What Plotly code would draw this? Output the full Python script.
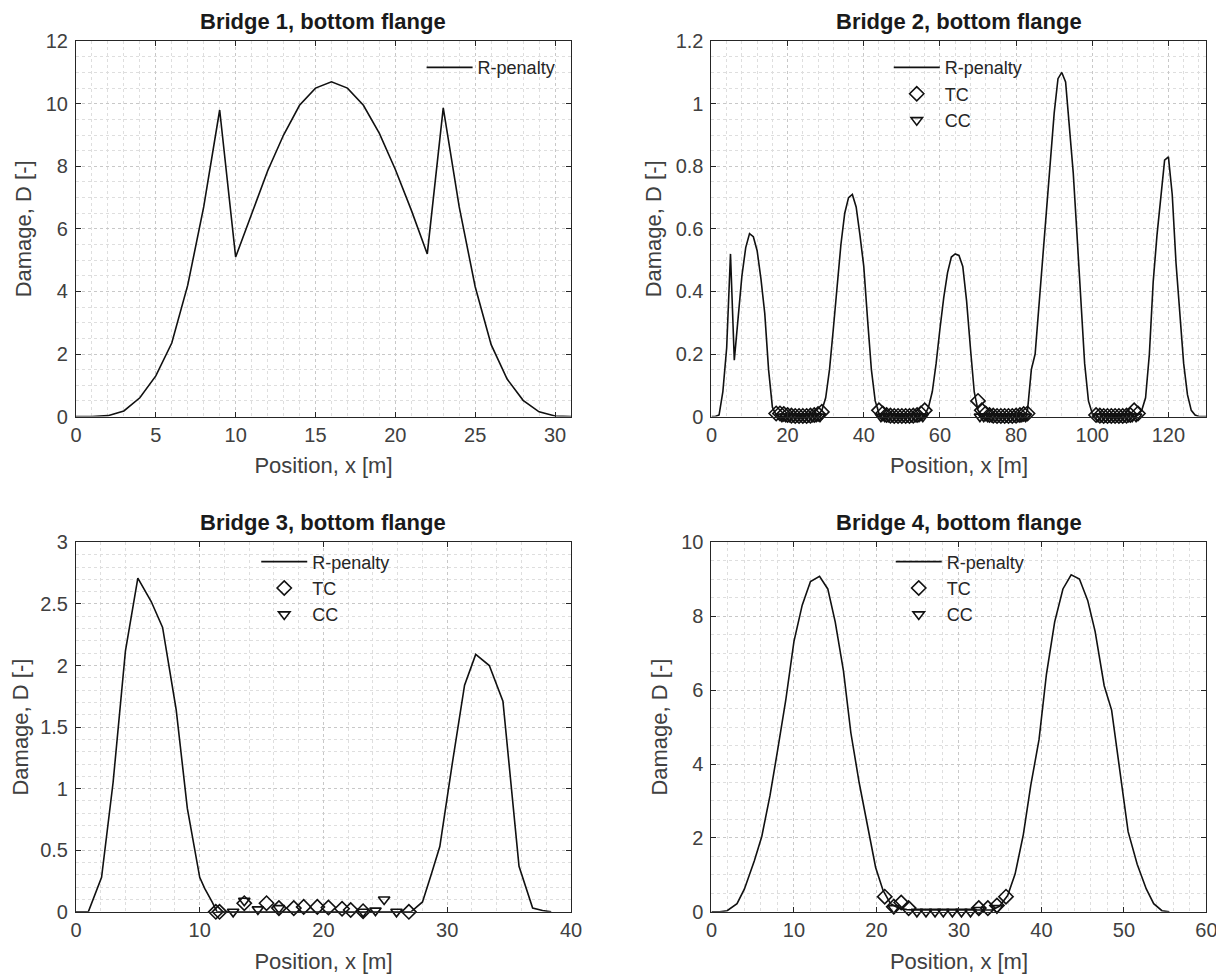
import plotly.graph_objects as go

# ---------------- data ----------------
# Bridge 1
b1_x = list(range(0, 32))
b1_rp = [0, 0, 0.03, 0.18, 0.6, 1.3, 2.35, 4.2, 6.7, 9.8, 5.1, 6.5, 7.85, 9.0, 9.95, 10.5,
         10.7, 10.5, 9.95, 9.05, 7.9, 6.6, 5.2, 9.87, 6.7, 4.15, 2.3, 1.2, 0.52, 0.15, 0.02, 0]

# Bridge 2
b2_x = list(range(0, 131))
b2_rp = [0, 0, 0.005, 0.08, 0.22, 0.52, 0.18, 0.32, 0.45, 0.54,          # 0-9
         0.585, 0.575, 0.53, 0.44, 0.33, 0.15, 0.03, 0.005, 0, 0,      # 10-19
         0, 0, 0, 0, 0, 0, 0, 0, 0.005, 0.02,                          # 20-29
         0.06, 0.15, 0.28, 0.42, 0.55, 0.65, 0.7, 0.71, 0.67, 0.58,    # 30-39
         0.48, 0.31, 0.15, 0.05, 0.01, 0, 0, 0, 0, 0,                  # 40-49
         0, 0, 0, 0, 0, 0, 0.005, 0.03, 0.08, 0.17,                    # 50-59
         0.28, 0.38, 0.46, 0.51, 0.52, 0.515, 0.48, 0.37, 0.22, 0.08,  # 60-69
         0.02, 0.005, 0, 0, 0, 0, 0, 0, 0, 0,                          # 70-79
         0, 0, 0, 0.02, 0.15, 0.2, 0.35, 0.5, 0.66, 0.82,              # 80-89
         0.97, 1.08, 1.1, 1.07, 0.93, 0.78, 0.58, 0.36, 0.17, 0.05,    # 90-99
         0.01, 0, 0, 0, 0, 0, 0, 0, 0, 0,                              # 100-109
         0, 0, 0.005, 0.02, 0.06, 0.2, 0.43, 0.58, 0.7, 0.82,          # 110-119
         0.83, 0.71, 0.49, 0.33, 0.17, 0.07, 0.02, 0.005, 0, 0,        # 120-129
         0]                                                            # 130
b2_tc_x = [17, 18, 19, 20, 21, 22, 23, 24, 25, 26, 27, 28, 29,
           44, 45, 46, 47, 48, 49, 50, 51, 52, 53, 54, 55, 56,
           70, 71, 72, 73, 74, 75, 76, 77, 78, 79, 80, 81, 82, 83,
           101, 102, 103, 104, 105, 106, 107, 108, 109, 110, 111, 112]
b2_tc_y = [0.01, 0.01, 0.008, 0.005, 0.003, 0.002, 0.002, 0.002, 0.002, 0.003, 0.005, 0.008, 0.015,
           0.02, 0.01, 0.005, 0.003, 0.002, 0.002, 0.002, 0.002, 0.002, 0.003, 0.005, 0.01, 0.02,
           0.05, 0.02, 0.01, 0.005, 0.003, 0.002, 0.002, 0.002, 0.002, 0.002, 0.003, 0.005, 0.008, 0.01,
           0.005, 0.003, 0.002, 0.002, 0.002, 0.002, 0.002, 0.002, 0.003, 0.005, 0.02, 0.01]
b2_cc_x = [18.5, 19.5, 20.5, 21.5, 22.5, 23.5, 24.5, 25.5, 26.5, 27.5, 28.5,
           44.5, 45.5, 46.5, 47.5, 48.5, 49.5, 50.5, 51.5, 52.5, 53.5, 54.5, 55.5,
           70.5, 71.5, 72.5, 73.5, 74.5, 75.5, 76.5, 77.5, 78.5, 79.5, 80.5, 81.5, 82.5,
           101.5, 102.5, 103.5, 104.5, 105.5, 106.5, 107.5, 108.5, 109.5, 110.5, 111.5]
b2_cc_y = [0.0] * len(b2_cc_x)

# Bridge 3
b3_x = [0, 1.0, 2.07, 3.0, 4.0, 5.0, 6.08, 7.0, 8.1, 9.0, 10.0, 10.4, 11.0, 11.4,
        27.07, 28.0, 28.7, 29.4, 30.4, 31.4, 32.3, 33.4, 34.5, 35.8, 36.9, 37.7, 38.4]
b3_rp = [0, 0, 0.28, 1.05, 2.12, 2.71, 2.52, 2.31, 1.64, 0.84, 0.28, 0.19, 0.08, 0.0,
         0.0, 0.08, 0.3, 0.53, 1.2, 1.84, 2.09, 2.0, 1.71, 0.37, 0.03, 0.01, 0.0]
b3_tc_x = [11.3, 11.6, 13.6, 15.4, 16.4, 17.6, 18.4, 19.5, 20.4, 21.5, 22.2, 23.2, 26.9]
b3_tc_y = [0.0, 0.0, 0.07, 0.07, 0.03, 0.03, 0.04, 0.04, 0.035, 0.025, 0.015, 0.005, 0.0]
b3_cc_x = [12.7, 13.6, 14.7, 16.4, 23.2, 24.2, 24.9, 25.9]
b3_cc_y = [0.0, 0.09, 0.02, 0.03, 0.0, 0.01, 0.1, 0.0]

# Bridge 4
b4_x = [0, 1.0, 1.9, 3.1, 4.0, 5.2, 6.1, 7.1, 8.0, 9.0, 10.0, 11.0, 12.0, 13.1, 14.1, 15.0,
        16.0, 16.9, 17.9, 18.9, 19.9, 20.8, 21.7, 22.7, 23.7, 24.7, 34.0, 34.9, 35.9, 36.8,
        37.8, 38.7, 39.7, 40.6, 41.6, 42.6, 43.6, 44.6, 45.6, 46.5, 47.6, 48.5, 49.5, 50.5,
        51.6, 52.7, 53.6, 54.6, 55.5]
b4_rp = [0, 0.0, 0.03, 0.22, 0.62, 1.38, 2.04, 3.15, 4.35, 5.72, 7.32, 8.3, 8.94, 9.08, 8.74, 7.85,
         6.52, 4.84, 3.5, 2.35, 1.2, 0.58, 0.22, 0.1, 0.06, 0.05, 0.05, 0.15, 0.44, 1.02,
         2.09, 3.42, 4.66, 6.43, 7.85, 8.74, 9.12, 9.01, 8.43, 7.59, 6.12, 5.46, 3.8, 2.17,
         1.29, 0.62, 0.22, 0.03, 0.0]
b4_tc_x = [21.0, 22.1, 23.0, 23.9, 32.4, 33.5, 34.6, 35.7]
b4_tc_y = [0.41, 0.14, 0.25, 0.1, 0.1, 0.1, 0.17, 0.41]
b4_cc_x = [22.1, 24.9, 26.0, 27.1, 28.1, 29.2, 30.3, 31.4, 32.4, 34.6]
b4_cc_y = [0.1, 0.0, 0.0, 0.0, 0.0, 0.0, 0.0, 0.0, 0.05, 0.1]

titles = ["Bridge 1, bottom flange", "Bridge 2, bottom flange",
          "Bridge 3, bottom flange", "Bridge 4, bottom flange"]
x_title = "Position, x [m]"
y_title = "Damage, D [-]"

b1_xticks = [0, 5, 10, 15, 20, 25, 30]
b1_yticks = [0, 2, 4, 6, 8, 10, 12]
b2_xticks = [0, 20, 40, 60, 80, 100, 120]
b2_yticks = [0, 0.2, 0.4, 0.6, 0.8, 1, 1.2]
b2_ytext = ["0", "0.2", "0.4", "0.6", "0.8", "1", "1.2"]
b3_xticks = [0, 10, 20, 30, 40]
b3_yticks = [0, 0.5, 1, 1.5, 2, 2.5, 3]
b3_ytext = ["0", "0.5", "1", "1.5", "2", "2.5", "3"]
b4_xticks = [0, 10, 20, 30, 40, 50, 60]
b4_yticks = [0, 2, 4, 6, 8, 10]

# ---------------- figure ----------------
W, H = 1224, 977
FONT = "Liberation Sans, Arial, sans-serif"
LINE_C = "#111111"
TXT_C = "#404040"

fig = go.Figure()

def px_x(p):
    return ((p - 12.8) / 0.99) / W

def px_y(p):
    return 1 - ((p - 17.8) / 0.979) / H

col_dom = [[px_x(75), px_x(572)], [px_x(713), px_x(1210)]]
row_dom = [[px_y(416), px_y(40)], [px_y(912), px_y(542)]]

panels = [
    dict(x=b1_x, y=b1_rp, tc=None, cc=None, xr=[0, 31], yr=[0, 12],
         xt=b1_xticks, xtt=[str(v) for v in b1_xticks], yt=b1_yticks, ytt=[str(v) for v in b1_yticks],
         xminor=1, yminor=0.5, col=0, row=0),
    dict(x=b2_x, y=b2_rp, tc=(b2_tc_x, b2_tc_y), cc=(b2_cc_x, b2_cc_y), xr=[0, 130], yr=[0, 1.2],
         xt=b2_xticks, xtt=[str(v) for v in b2_xticks], yt=b2_yticks, ytt=b2_ytext,
         xminor=4, yminor=0.05, col=1, row=0),
    dict(x=b3_x, y=b3_rp, tc=(b3_tc_x, b3_tc_y), cc=(b3_cc_x, b3_cc_y), xr=[0, 40], yr=[0, 3],
         xt=b3_xticks, xtt=[str(v) for v in b3_xticks], yt=b3_yticks, ytt=b3_ytext,
         xminor=2, yminor=0.1, col=0, row=1),
    dict(x=b4_x, y=b4_rp, tc=(b4_tc_x, b4_tc_y), cc=(b4_cc_x, b4_cc_y), xr=[0, 60], yr=[0, 10],
         xt=b4_xticks, xtt=[str(v) for v in b4_xticks], yt=b4_yticks, ytt=[str(v) for v in b4_yticks],
         xminor=2, yminor=0.5, col=1, row=1),
]

legend_pos = [(422, 48), (891, 48), (256, 543), (893, 543)]

annotations = []
for i, p in enumerate(panels):
    n = "" if i == 0 else str(i + 1)
    xa, ya = "x" + n, "y" + n
    lg = "legend" if i == 0 else "legend" + str(i + 1)
    fig.add_trace(go.Scatter(x=p["x"], y=p["y"], mode="lines", name="R-penalty",
                             line=dict(color=LINE_C, width=1.6), xaxis=xa, yaxis=ya,
                             legend=lg, showlegend=True))
    if p["tc"] is not None:
        fig.add_trace(go.Scatter(x=p["tc"][0], y=p["tc"][1], mode="markers", name="TC",
                                 marker=dict(symbol="diamond-open", size=11, color=LINE_C,
                                             line=dict(width=1.6, color=LINE_C)),
                                 cliponaxis=False, xaxis=xa, yaxis=ya, legend=lg))
        fig.add_trace(go.Scatter(x=p["cc"][0], y=p["cc"][1], mode="markers", name="CC",
                                 marker=dict(symbol="triangle-down-open", size=10, color=LINE_C,
                                             line=dict(width=1.6, color=LINE_C)),
                                 cliponaxis=False, xaxis=xa, yaxis=ya, legend=lg))
    axis_common = dict(showline=True, linecolor="#262626", linewidth=1, mirror="ticks",
                       ticks="inside", ticklen=5, tickcolor="#262626",
                       tickfont=dict(family=FONT, size=20, color=TXT_C),
                       showgrid=True, gridcolor="#c8c8c8", griddash="dot", gridwidth=1,
                       zeroline=False)
    xaxis = dict(axis_common, domain=col_dom[p["col"]], range=p["xr"], anchor=ya,
                 tickmode="array", tickvals=p["xt"], ticktext=p["xtt"],
                 minor=dict(dtick=p["xminor"], showgrid=True, gridcolor="#dedede",
                            griddash="dot", ticks=""),
                 title=dict(text=x_title, font=dict(family=FONT, size=22, color=TXT_C), standoff=13))
    yaxis = dict(axis_common, domain=row_dom[p["row"]], range=p["yr"], anchor=xa,
                 tickmode="array", tickvals=p["yt"], ticktext=p["ytt"], ticklabelstandoff=3,
                 minor=dict(dtick=p["yminor"], showgrid=True, gridcolor="#dedede",
                            griddash="dot", ticks=""),
                 title=dict(text=y_title, font=dict(family=FONT, size=22, color=TXT_C), standoff=7))
    fig.layout["xaxis" + n] = xaxis
    fig.layout["yaxis" + n] = yaxis
    lx, ly = legend_pos[i]
    fig.layout[lg] = dict(x=px_x(lx), y=px_y(ly), xanchor="left", yanchor="top",
                          bgcolor="rgba(255,255,255,0)", borderwidth=0,
                          font=dict(family=FONT, size=18, color="#262626"),
                          itemwidth=46, tracegroupgap=0)
    annotations.append(dict(text="<b>" + titles[i] + "</b>", xref="paper", yref="paper",
                            x=sum(col_dom[p["col"]]) / 2, y=row_dom[p["row"]][1],
                            xanchor="center", yanchor="bottom", yshift=5, showarrow=False,
                            font=dict(family=FONT, size=22, color="#1a1a1a")))

fig.update_layout(width=W, height=H, margin=dict(l=0, r=0, t=0, b=0),
                  paper_bgcolor="white", plot_bgcolor="white",
                  annotations=annotations)

fig.write_html("out.html")
